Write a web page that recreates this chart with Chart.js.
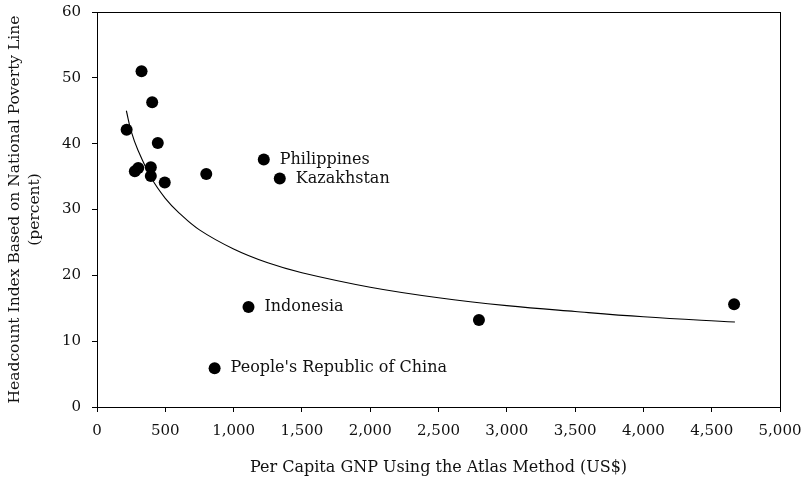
<!DOCTYPE html>
<html>
<head>
<meta charset="utf-8">
<script src="https://cdn.jsdelivr.net/npm/chart.js@4.4.1/dist/chart.umd.min.js"></script>
<style>
  html, body { margin: 0; padding: 0; background: #fff; }
  #wrap { width: 808px; height: 478px; }
</style>
</head>
<body>
<div id="wrap"><canvas id="chart" width="808" height="478"></canvas></div>
<script>
// country observations (per capita GNP, headcount %)
const gnp = [326, 404, 217, 445, 302, 277, 394, 394, 496, 800, 1221, 1338, 1109, 861, 2796, 4664];
const headcount = [51.0, 46.3, 42.1, 40.1, 36.3, 35.8, 36.4, 35.1, 34.1, 35.4, 37.6, 34.7, 15.2, 5.9, 13.2, 15.6];
const names = ['', '', '', '', '', '', '', '', '', '', 'Philippines', 'Kazakhstan', 'Indonesia', "People's Republic of China", '', ''];

// trend curve
const trendX = [215, 250, 300, 400, 500, 600, 750, 1000, 1250, 1500, 2000, 2500, 3000, 3500, 4000, 4670];
const trendY = [45.0, 41.9, 39.0, 34.7, 31.7, 29.5, 26.9, 24.0, 21.9, 20.4, 18.2, 16.6, 15.4, 14.5, 13.7, 12.9];

const font = 'DejaVu Serif';

const labelPlugin = {
    id: 'labels',
    afterDatasetsDraw(chart) {
        const ctx = chart.ctx;
        const xs = chart.scales.x, ys = chart.scales.y;
        ctx.save();
        ctx.fillStyle = '#111';
        ctx.font = '16px "' + font + '"';
        ctx.textBaseline = 'middle';
        gnp.forEach((g, i) => {
            if (!names[i]) return;
            ctx.fillText(names[i], xs.getPixelForValue(g) + 16, ys.getPixelForValue(headcount[i]));
        });
        // box round the plot area
        const a = chart.chartArea;
        ctx.strokeStyle = '#000';
        ctx.lineWidth = 1;
        ctx.strokeRect(a.left + 0.5, a.top + 0.5, a.right - a.left, a.bottom - a.top);
        ctx.restore();
    }
};

new Chart(document.getElementById('chart').getContext('2d'), {
    type: 'scatter',
    data: {
        datasets: [{
            data: gnp.map((g, i) => ({ x: g, y: headcount[i] })),
            backgroundColor: '#000',
            borderColor: '#000',
            borderWidth: 0,
            pointRadius: 6,
            pointHoverRadius: 6
        }, {
            type: 'line',
            data: trendX.map((t, i) => ({ x: t, y: trendY[i] })),
            borderColor: '#000',
            borderWidth: 1.1,
            pointRadius: 0,
            tension: 0.4,
            fill: false
        }]
    },
    options: {
        responsive: false,
        animation: false,
        layout: { padding: { top: 12, right: 28, left: 1, bottom: 0 } },
        plugins: {
            legend: { display: false },
            tooltip: { enabled: false }
        },
        scales: {
            x: {
                type: 'linear',
                min: 0,
                max: 5000,
                afterFit: s => { s.height = 71; s.paddingLeft = 0; s.paddingRight = 0; },
                grid: { display: true, drawOnChartArea: false, color: '#000', tickLength: 5 },
                border: { color: '#000' },
                ticks: {
                    stepSize: 500,
                    color: '#111',
                    font: { family: font, size: 15 },
                    padding: 10,
                    maxRotation: 0,
                    callback: v => v.toLocaleString('en-US')
                },
                title: {
                    display: true,
                    text: 'Per Capita GNP Using the Atlas Method (US$)',
                    color: '#111',
                    font: { family: font, size: 16 },
                    padding: { top: 0, bottom: 1 }
                }
            },
            y: {
                min: 0,
                max: 60,
                afterFit: s => { s.width = 96; s.paddingTop = 0; s.paddingBottom = 0; },
                grid: { display: true, drawOnChartArea: false, color: '#000', tickLength: 5 },
                border: { color: '#000' },
                ticks: {
                    stepSize: 10,
                    color: '#111',
                    font: { family: font, size: 15 },
                    padding: 11
                },
                title: {
                    display: true,
                    text: ['Headcount Index Based on National Poverty Line', '(percent)'],
                    color: '#111',
                    font: { family: font, size: 15.5, lineHeight: 1.3 },
                    padding: { top: 4, bottom: 10 }
                }
            }
        }
    },
    plugins: [labelPlugin]
});
</script>
</body>
</html>
